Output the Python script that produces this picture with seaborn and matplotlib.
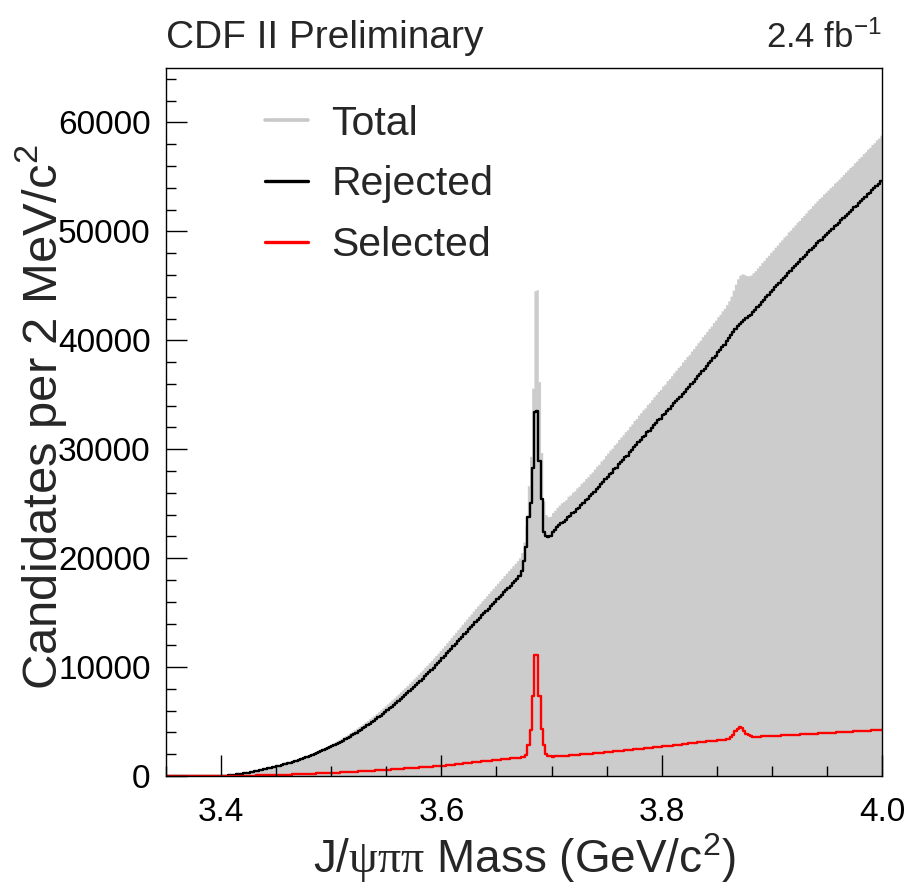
import numpy as np
import pandas as pd
import matplotlib
matplotlib.use("Agg")
import matplotlib.pyplot as plt
from matplotlib.lines import Line2D
from matplotlib.ticker import MultipleLocator
import seaborn as sns

# ---------------- data ----------------
x_start = 3.35
bin_width = 0.002  # 2 MeV bins

rejected = (
    [0] * 24 + [5]
    + [8, 20, 35, 50, 65]
    + [85, 115, 145, 175, 205]
    + [240, 275, 320, 360, 400]
    + [440, 485, 530, 580, 625]
    + [670, 720, 765, 810, 860]
    + [905, 955, 1010, 1060, 1120]
    + [1175, 1230, 1290, 1350, 1415]
    + [1490, 1555, 1620, 1700, 1780]
    + [1855, 1930, 2020, 2100, 2180]
    + [2260, 2350, 2440, 2530, 2620]
    + [2710, 2810, 2920, 3020, 3130]
    + [3250, 3360, 3480, 3600, 3720]
    + [3850, 3970, 4110, 4230, 4370]
    + [4510, 4640, 4790, 4930, 5080]
    + [5230, 5390, 5540, 5710, 5870]
    + [6040, 6200, 6380, 6540, 6720]
    + [6890, 7070, 7250, 7420, 7610]
    + [7800, 7980, 8170, 8360, 8560]
    + [8750, 8940, 9160, 9340, 9560]
    + [9750, 9960, 10170, 10370, 10600]
    + [10810, 11020, 11250, 11460, 11690]
    + [11910, 12120, 12350, 12560, 12790]
    + [13010, 13230, 13460, 13660, 13900]
    + [14110, 14330, 14520, 14750, 14940]
    + [15160, 15370, 15580, 15790, 16000]
    + [16210, 16420, 16620, 16850, 17050]
    + [17260, 17460, 17680, 17880, 18100]
    + [18350, 18800, 19700, 21000, 23800]
    + [25100, 28300, 33400, 33500, 28900]
    + [25400, 22400, 22000, 21950, 22050]
    + [22400, 22600, 22850, 23050, 23250]
    + [23350, 23500, 23800, 23900, 24150]
    + [24250, 24500, 24650, 24900, 25050]
    + [25300, 25450, 25700, 25850, 26100]
    + [26350, 26500, 26800, 26950, 27250]
    + [27450, 27700, 27850, 28150, 28300]
    + [28600, 28800, 29000, 29250, 29400]
    + [29700, 29900, 30200, 30350, 30650]
    + [30850, 31100, 31250, 31550, 31700]
    + [31950, 32200, 32400, 32650, 32800]
    + [33100, 33250, 33550, 33700, 33950]
    + [34200, 34400, 34650, 34800, 35100]
    + [35300, 35550, 35700, 36000, 36200]
    + [36450, 36700, 36900, 37200, 37400]
    + [37650, 37900, 38100, 38400, 38600]
    + [38900, 39100, 39400, 39600, 39900]
    + [40200, 40500, 40800, 41050, 41300]
    + [41500, 41700, 41900, 42050, 42200]
    + [42350, 42600, 42800, 43050, 43250]
    + [43500, 43700, 43950, 44150, 44400]
    + [44600, 44850, 45050, 45300, 45500]
    + [45750, 45900, 46200, 46350, 46600]
    + [46800, 47050, 47200, 47450, 47650]
    + [47850, 48100, 48250, 48500, 48700]
    + [48900, 49100, 49250, 49500, 49650]
    + [49850, 50050, 50200, 50450, 50600]
    + [50800, 51000, 51200, 51400, 51600]
    + [51800, 51950, 52200, 52350, 52600]
    + [52750, 53000, 53150, 53400, 53550]
    + [53800, 53950, 54200, 54350, 54600]
)

selected = (
    [0] * 25
    + [2, 4, 6, 8, 10]
    + [12, 15, 18, 20, 23]
    + [26, 29, 32, 35, 38]
    + [42, 46, 50, 54, 58]
    + [62, 67, 72, 78, 84]
    + [95, 100, 108, 115, 122]
    + [130, 137, 145, 152, 160]
    + [168, 176, 184, 192, 200]
    + [208, 216, 224, 232, 240]
    + [248, 256, 264, 272, 280]
    + [290, 300, 310, 320, 330]
    + [340, 352, 363, 374, 385]
    + [396, 408, 420, 430, 442]
    + [454, 466, 478, 490, 500]
    + [512, 524, 536, 548, 560]
    + [575, 588, 600, 615, 630]
    + [645, 660, 672, 690, 700]
    + [718, 732, 745, 760, 775]
    + [790, 802, 818, 832, 845]
    + [860, 875, 890, 905, 920]
    + [940, 960, 985, 1005, 1030]
    + [1050, 1070, 1095, 1115, 1140]
    + [1160, 1180, 1200, 1225, 1245]
    + [1270, 1290, 1315, 1335, 1355]
    + [1380, 1400, 1420, 1445, 1465]
    + [1490, 1510, 1530, 1550, 1570]
    + [1590, 1610, 1625, 1640, 1660]
    + [1680, 1720, 1780, 1950, 2850]
    + [4250, 7300, 11150, 11150, 7300]
    + [4300, 2850, 2000, 1850, 1800]
    + [1790, 1800, 1810, 1820, 1830]
    + [1850, 1870, 1880, 1900, 1910]
    + [1930, 1950, 1960, 1980, 1990]
    + [2010, 2030, 2040, 2060, 2080]
    + [2100, 2110, 2130, 2150, 2170]
    + [2200, 2220, 2240, 2260, 2280]
    + [2300, 2320, 2340, 2360, 2380]
    + [2400, 2420, 2440, 2460, 2480]
    + [2500, 2520, 2540, 2560, 2580]
    + [2600, 2620, 2640, 2660, 2690]
    + [2710, 2730, 2750, 2780, 2800]
    + [2820, 2850, 2870, 2890, 2920]
    + [2940, 2960, 2990, 3010, 3030]
    + [3060, 3080, 3100, 3130, 3150]
    + [3170, 3190, 3210, 3230, 3250]
    + [3270, 3290, 3310, 3340, 3370]
    + [3420, 3550, 3800, 4100, 4350]
    + [4480, 4400, 4150, 3900, 3720]
    + [3640, 3600, 3590, 3600, 3610]
    + [3630, 3640, 3650, 3660, 3670]
    + [3680, 3690, 3700, 3710, 3720]
    + [3730, 3745, 3755, 3765, 3775]
    + [3790, 3800, 3810, 3820, 3830]
    + [3845, 3855, 3865, 3875, 3885]
    + [3900, 3910, 3920, 3930, 3945]
    + [3955, 3965, 3975, 3990, 4000]
    + [4010, 4020, 4035, 4045, 4055]
    + [4065, 4080, 4090, 4100, 4110]
    + [4125, 4135, 4145, 4155, 4170]
    + [4180, 4190, 4200, 4215, 4230]
)

assert len(rejected) == len(selected) == 325, (len(rejected), len(selected))

x_ticks = [3.4, 3.6, 3.8, 4.0]
x_tick_labels = ["3.4", "3.6", "3.8", "4.0"]
y_ticks = [0, 10000, 20000, 30000, 40000, 50000, 60000]
y_tick_labels = ["0", "10000", "20000", "30000", "40000", "50000", "60000"]
legend_labels = ["Total", "Rejected", "Selected"]

n_bins = len(rejected)
x_end = x_start + bin_width * n_bins
edges = np.linspace(x_start, x_end, n_bins + 1)
centers = 0.5 * (edges[:-1] + edges[1:])
df = pd.DataFrame({
    "mass": centers,
    "rejected": np.array(rejected, dtype=float),
    "selected": np.array(selected, dtype=float),
})
df["total"] = df["rejected"] + df["selected"]

# ---------------- style ----------------
sns.set_style("ticks")
plt.rcParams["font.family"] = ["Liberation Sans", "DejaVu Sans"]
plt.rcParams["mathtext.fontset"] = "custom"
plt.rcParams["mathtext.rm"] = "Liberation Sans"
plt.rcParams["mathtext.it"] = "Liberation Sans:italic"
plt.rcParams["mathtext.bf"] = "Liberation Sans:bold"
plt.rcParams["mathtext.sf"] = "Liberation Serif"

fig = plt.figure(figsize=(9.08, 8.93), dpi=100)
ax = fig.add_axes([166 / 908, 117 / 893, 716 / 908, 708 / 893])
ax.set_axisbelow(False)

hist_kws = dict(x="mass", bins=n_bins, binrange=(x_start, x_end), element="step", ax=ax)
sns.histplot(data=df, weights="total", fill=True, color="#cccccc", alpha=1.0,
             linewidth=0, **hist_kws)
sns.histplot(data=df, weights="rejected", fill=False, color="black",
             linewidth=1.7, **hist_kws)
sns.histplot(data=df, weights="selected", fill=False, color="#ff0000",
             linewidth=1.7, **hist_kws)

ax.set_xlim(3.35, 4.0)
ax.set_ylim(0, 65000)

ax.set_xticks(x_ticks)
ax.set_xticklabels(x_tick_labels)
ax.set_yticks(y_ticks)
ax.set_yticklabels(y_tick_labels)
ax.xaxis.set_minor_locator(MultipleLocator(0.05))
ax.yaxis.set_minor_locator(MultipleLocator(2000))
ax.tick_params(axis="both", which="both", direction="in", top=False, right=False,
               colors="black", width=1.0)
ax.tick_params(axis="both", which="major", length=15, labelsize=24)
ax.tick_params(axis="both", which="minor", length=7.5)
ax.tick_params(axis="y", which="major", pad=11)
ax.tick_params(axis="x", which="major", pad=15)
for s in ax.spines.values():
    s.set_visible(True)
    s.set_color("black")
    s.set_linewidth(1.0)
    s.set_zorder(5)

ax.set_xlabel("J/$\\mathsf{\u03c8\u03c0\u03c0}$ Mass (GeV/c$^{2}$)", fontsize=33)
ax.xaxis.set_label_coords(0.5, -0.078)
ax.set_ylabel("Candidates per 2 MeV/c$^{2}$", fontsize=35.3)
ax.yaxis.set_label_coords(-0.136, 0.507)

handles = [
    Line2D([], [], color="#c8c8c8", lw=2.6),
    Line2D([], [], color="black", lw=2.4),
    Line2D([], [], color="#ff0000", lw=2.4),
]
ax.legend(handles, legend_labels, loc="upper left", bbox_to_anchor=(0.138, 0.948),
          frameon=False, fontsize=29.5, borderaxespad=0, borderpad=0,
          handlelength=1.05, handletextpad=0.58, labelspacing=0.55)

fig.text(166 / 908, 1 - 48 / 893, "CDF II Preliminary", fontsize=28,
         ha="left", va="baseline")
fig.text(882 / 908, 1 - 48 / 893, "2.4 fb$^{-1}$", fontsize=25,
         ha="right", va="baseline")

fig.savefig("out.png", dpi=100)
